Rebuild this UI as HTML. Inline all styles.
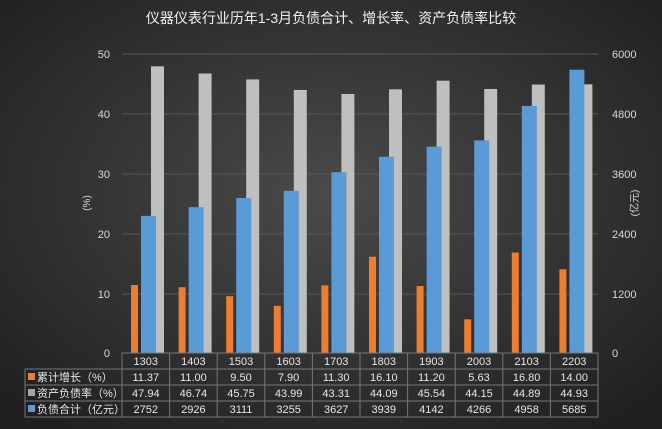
<!DOCTYPE html>
<html><head><meta charset="utf-8"><style>
body{margin:0;width:662px;height:429px;overflow:hidden;background:#333}
svg{display:block;font-family:"Liberation Sans","Noto Sans CJK SC",sans-serif}
</style></head><body>
<svg width="662" height="429" viewBox="0 0 662 429">
<defs>
<radialGradient id="bg" cx="50%" cy="45%" r="70%">
<stop offset="0" stop-color="#4a4a4a"/><stop offset="1" stop-color="#1f1f1f"/>
</radialGradient>
</defs>
<rect width="662" height="429" fill="url(#bg)"/>
<text x="331" y="23" fill="#f2f2f2" font-size="14" text-anchor="middle">仪器仪表行业历年1-3月负债合计、增长率、资产负债率比较</text>
<g stroke="#555" stroke-width="1">
<line x1="122" y1="54" x2="598" y2="54"/><line x1="122" y1="114" x2="598" y2="114"/>
<line x1="122" y1="174" x2="598" y2="174"/><line x1="122" y1="234" x2="598" y2="234"/>
<line x1="122" y1="294" x2="598" y2="294"/>
</g>
<g fill="#d9d9d9" font-size="11" text-anchor="end">
<text x="110" y="58">50</text><text x="110" y="118">40</text><text x="110" y="178">30</text>
<text x="110" y="238">20</text><text x="110" y="298">10</text><text x="110" y="357">0</text>
</g>
<g fill="#d9d9d9" font-size="11">
<text x="612" y="58">6000</text><text x="612" y="118">4800</text><text x="612" y="178">3600</text>
<text x="612" y="238">2400</text><text x="612" y="298">1200</text><text x="612" y="357">0</text>
</g>
<text transform="translate(90,203) rotate(-90)" fill="#d9d9d9" font-size="10" text-anchor="middle">(%)</text>
<text transform="translate(638,203) rotate(-90)" fill="#d9d9d9" font-size="10" text-anchor="middle">(亿元)</text>
<g id="bars"></g>
<g stroke="#777" stroke-width="1" fill="none">
<rect x="122" y="353" width="476" height="64"/>
<line x1="25" y1="369" x2="598" y2="369"/><line x1="25" y1="385" x2="598" y2="385"/>
<line x1="25" y1="401" x2="598" y2="401"/><line x1="25" y1="417" x2="598" y2="417"/>
<line x1="25" y1="369" x2="25" y2="417"/>
</g>
<g id="tbl" font-size="11" fill="#e6e6e6" text-anchor="middle"></g>
<rect x="28" y="373" width="7" height="7" fill="#ed7d31"/>
<rect x="28" y="389" width="7" height="7" fill="#a5a5a5"/>
<rect x="28" y="405" width="7" height="7" fill="#5b9bd5"/>
<g font-size="11" fill="#e6e6e6">
<text x="37" y="381">累计增长（%）</text>
<text x="37" y="397">资产负债率（%）</text>
<text x="37" y="413">负债合计（亿元）</text>
</g>
</svg>
<script>
var cats=["1303","1403","1503","1603","1703","1803","1903","2003","2103","2203"];
var g=[11.37,11.00,9.50,7.90,11.30,16.10,11.20,5.63,16.80,14.00];
var r=[47.94,46.74,45.75,43.99,43.31,44.09,45.54,44.15,44.89,44.93];
var d=[2752,2926,3111,3255,3627,3939,4142,4266,4958,5685];
var ns="http://www.w3.org/2000/svg",B=document.getElementById("bars"),T=document.getElementById("tbl");
function R(x,y,w,h,f){var e=document.createElementNS(ns,"rect");e.setAttribute("x",x);e.setAttribute("y",y);e.setAttribute("width",w);e.setAttribute("height",h);e.setAttribute("fill",f);B.appendChild(e);}
function t(x,y,s){var e=document.createElementNS(ns,"text");e.setAttribute("x",x);e.setAttribute("y",y);e.textContent=s;T.appendChild(e);}
var cw=47.6,base=353,k=5.98;
for(var i=0;i<10;i++){var x=122+i*cw;
R(x+9,base-g[i]*k,7,g[i]*k,"#ed7d31");
R(x+29,base-r[i]*k,13,r[i]*k,"#bfbfbf");
var h=d[i]/6000*299;R(x+19,base-h,15,h,"#5b9bd5");
var l=document.createElementNS(ns,"line");l.setAttribute("x1",x);l.setAttribute("x2",x);l.setAttribute("y1",353);l.setAttribute("y2",417);l.setAttribute("stroke","#777");document.querySelector("svg").appendChild(l);
t(x+cw/2,365,cats[i]);t(x+cw/2,381,g[i].toFixed(2));t(x+cw/2,397,r[i].toFixed(2));t(x+cw/2,413,d[i]);}
</script>
</body></html>
